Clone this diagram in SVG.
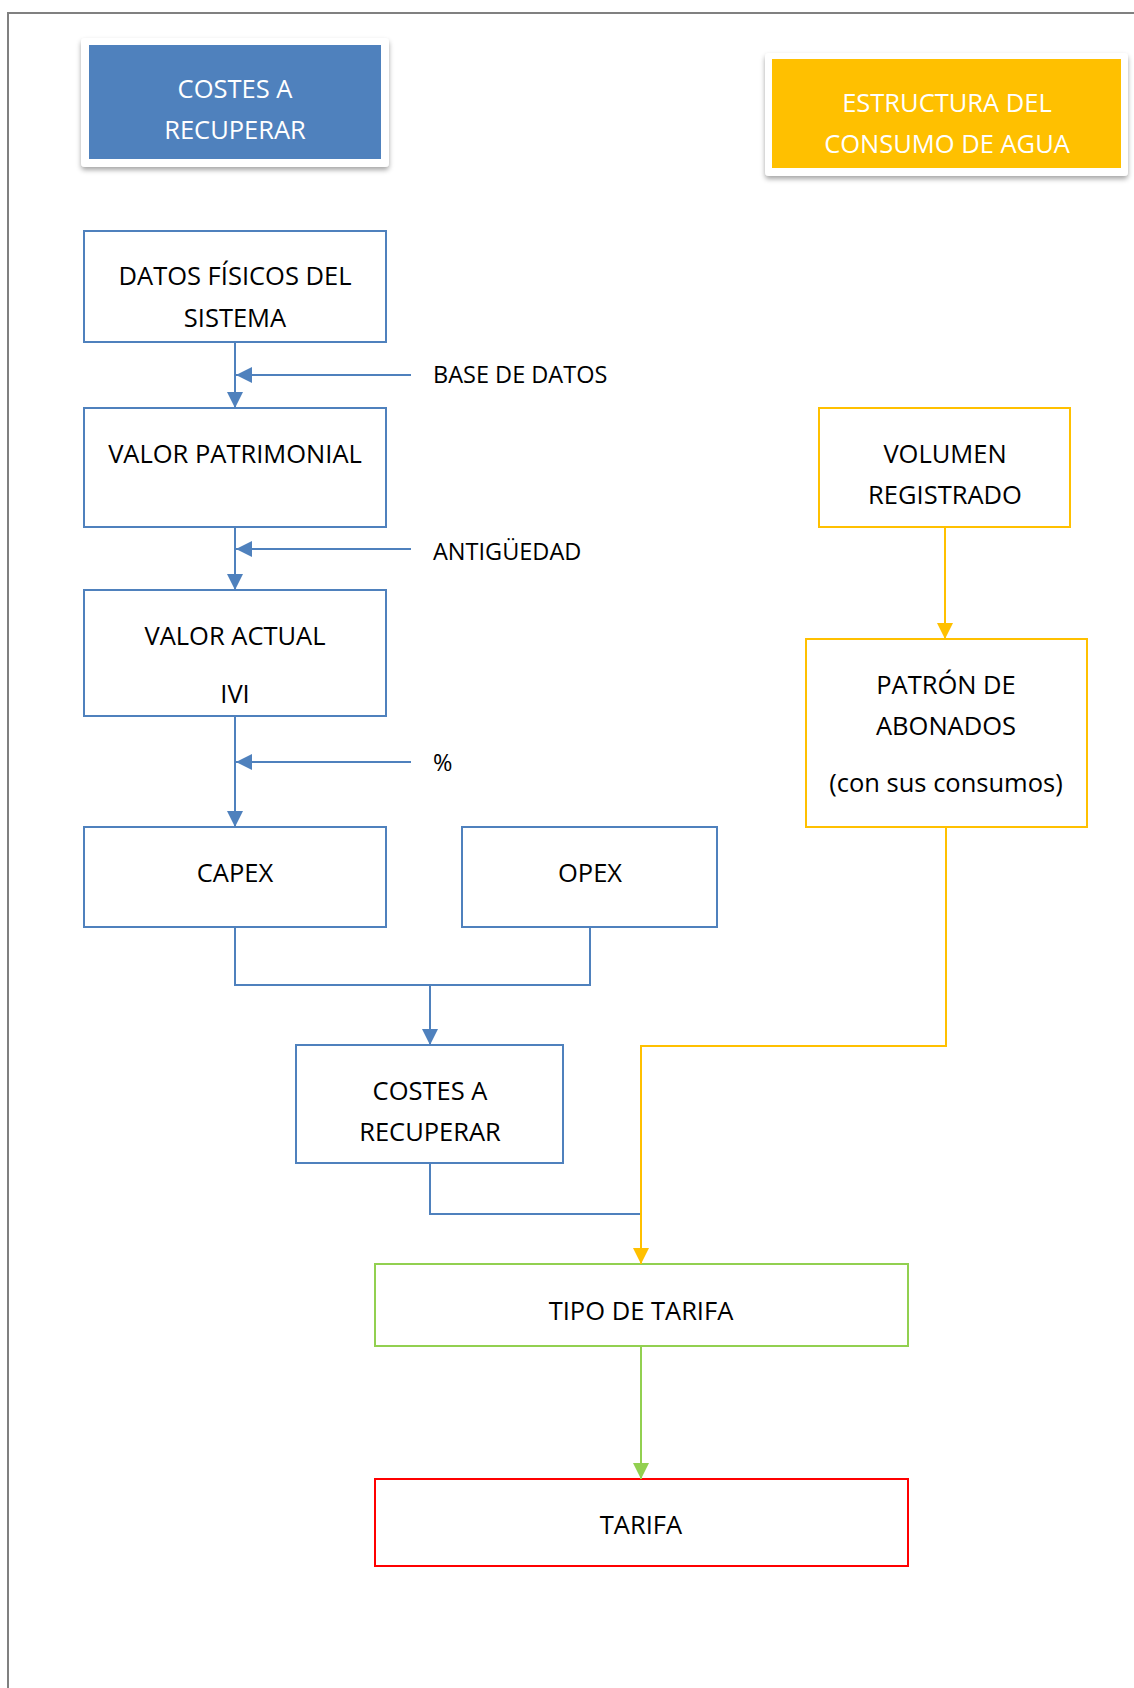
<svg xmlns="http://www.w3.org/2000/svg" width="1134" height="1688" viewBox="0 0 1134 1688">
<defs>
<style>
text{font-family:"Open Sans","Liberation Sans",sans-serif;font-size:25.5px;fill:#000;text-anchor:middle}
.w{fill:#fff}
.lbl{text-anchor:start;font-size:23.5px}
.box{fill:#fff;stroke-width:2}
.b{stroke:#4F81BD}
.y{stroke:#FFC000}
.g{stroke:#92D050}
.r{stroke:#FF0000}
.ln{fill:none;stroke-width:2}
</style>
<filter id="sh" x="-10%" y="-10%" width="120%" height="130%">
<feDropShadow dx="0" dy="3" stdDeviation="2.5" flood-color="#000" flood-opacity="0.35"/>
</filter>
<marker id="ab" viewBox="0 0 16 16" refX="16" refY="8" markerWidth="16" markerHeight="16" markerUnits="userSpaceOnUse" orient="auto"><path d="M0,0L16,8L0,16Z" fill="#4F81BD"/></marker>
<marker id="ay" viewBox="0 0 16 16" refX="16" refY="8" markerWidth="16" markerHeight="16" markerUnits="userSpaceOnUse" orient="auto"><path d="M0,0L16,8L0,16Z" fill="#FFC000"/></marker>
<marker id="ag" viewBox="0 0 16 16" refX="16" refY="8" markerWidth="16" markerHeight="16" markerUnits="userSpaceOnUse" orient="auto"><path d="M0,0L16,8L0,16Z" fill="#92D050"/></marker>
</defs>
<rect width="1134" height="1688" fill="#fff"/>
<path d="M8,1700V13H1140" fill="none" stroke="#808080" stroke-width="2"/>

<g id="hdr-costes">
<rect x="81" y="38" width="308" height="129" rx="4" fill="#fff" filter="url(#sh)"/>
<rect x="89" y="45" width="292" height="114" fill="#4F81BD"/>
<text class="w" x="235" y="98">COSTES A</text>
<text class="w" x="235" y="139">RECUPERAR</text>
</g>

<g id="hdr-estructura">
<rect x="765" y="53" width="363" height="123" rx="4" fill="#fff" filter="url(#sh)"/>
<rect x="772" y="59" width="349" height="109" fill="#FFC000"/>
<text class="w" x="947" y="112">ESTRUCTURA DEL</text>
<text class="w" x="947" y="153">CONSUMO DE AGUA</text>
</g>

<g id="datos">
<rect class="box b" x="84" y="231" width="302" height="111"/>
<text x="235" y="285">DATOS FÍSICOS DEL</text>
<text x="235" y="327">SISTEMA</text>
</g>

<g id="valor-patrimonial">
<rect class="box b" x="84" y="408" width="302" height="119"/>
<text x="235" y="463">VALOR PATRIMONIAL</text>
</g>

<g id="valor-actual">
<rect class="box b" x="84" y="590" width="302" height="126"/>
<text x="235" y="645">VALOR ACTUAL</text>
<text x="235" y="703">IVI</text>
</g>

<g id="capex">
<rect class="box b" x="84" y="827" width="302" height="100"/>
<text x="235" y="882">CAPEX</text>
</g>

<g id="opex">
<rect class="box b" x="462" y="827" width="255" height="100"/>
<text x="590" y="882">OPEX</text>
</g>

<g id="costes">
<rect class="box b" x="296" y="1045" width="267" height="118"/>
<text x="430" y="1100">COSTES A</text>
<text x="430" y="1141">RECUPERAR</text>
</g>

<g id="volumen">
<rect class="box y" x="819" y="408" width="251" height="119"/>
<text x="945" y="463">VOLUMEN</text>
<text x="945" y="504">REGISTRADO</text>
</g>

<g id="patron">
<rect class="box y" x="806" y="639" width="281" height="188"/>
<text x="946" y="694">PATRÓN DE</text>
<text x="946" y="735">ABONADOS</text>
<text x="946" y="792">(con sus consumos)</text>
</g>

<g id="tipo">
<rect class="box g" x="375" y="1264" width="533" height="82"/>
<text x="641" y="1320">TIPO DE TARIFA</text>
</g>

<g id="tarifa">
<rect class="box r" x="375" y="1479" width="533" height="87"/>
<text x="641" y="1534">TARIFA</text>
</g>

<g id="labels">
<text class="lbl" x="433" y="383">BASE DE DATOS</text>
<text class="lbl" x="433" y="560">ANTIGÜEDAD</text>
<text class="lbl" x="433" y="771">%</text>
</g>

<g id="connectors">
<path class="ln b" d="M235,342V408" marker-end="url(#ab)"/>
<path class="ln b" d="M411,375H236" marker-end="url(#ab)"/>
<path class="ln b" d="M235,527V590" marker-end="url(#ab)"/>
<path class="ln b" d="M411,549H236" marker-end="url(#ab)"/>
<path class="ln b" d="M235,716V827" marker-end="url(#ab)"/>
<path class="ln b" d="M411,762H236" marker-end="url(#ab)"/>
<path class="ln b" d="M235,927V985H590V927"/>
<path class="ln b" d="M430,985V1045" marker-end="url(#ab)"/>
<path class="ln b" d="M430,1163V1214H641"/>
<path class="ln y" d="M945,527V639" marker-end="url(#ay)"/>
<path class="ln y" d="M946,827V1046H641V1264" marker-end="url(#ay)"/>
<path class="ln g" d="M641,1346V1479" marker-end="url(#ag)"/>
</g>
</svg>
